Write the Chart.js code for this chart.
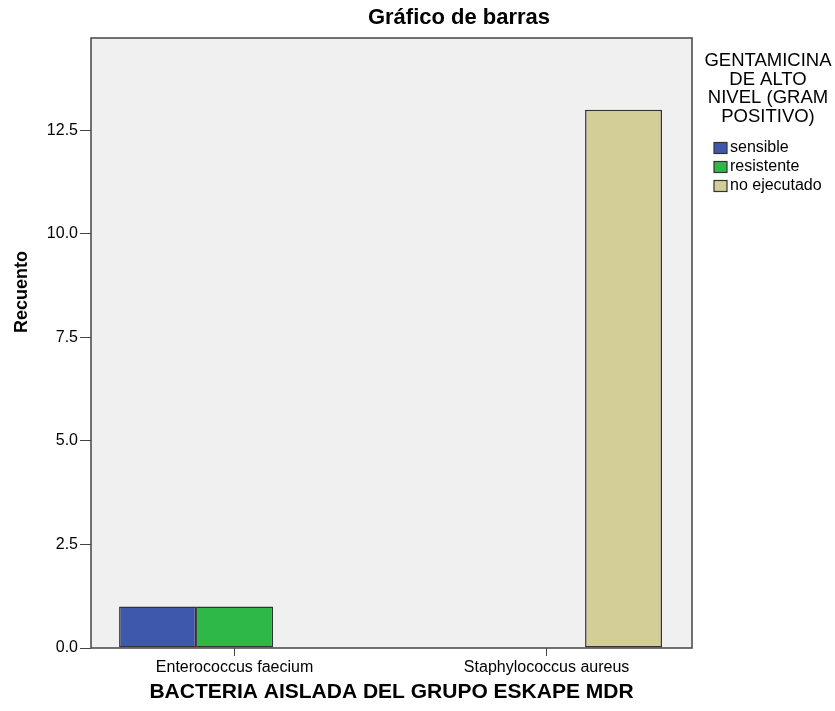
<!DOCTYPE html>
<html>
<head>
<meta charset="utf-8">
<script src="https://cdn.jsdelivr.net/npm/chart.js@4"></script>
<style>
  html, body { margin: 0; padding: 0; background: #fff; }
  #wrap { width: 835px; height: 711px; position: relative; }
</style>
</head>
<body>
<div id="wrap"><canvas id="myChart"></canvas></div>
<script>
// Bacterias del grupo ESKAPE y resultado de gentamicina de alto nivel
var categories = ["Enterococcus faecium", "Staphylococcus aureus"];
var sensible = [1, 0];
var resistente = [1, 0];
var noEjecutado = [0, 13];
var seriesNames = ["sensible", "resistente", "no ejecutado"];
var seriesColors = ["#3E58AC", "#2EB848", "#D3CE97"];
var yTicks = [0, 2.5, 5, 7.5, 10, 12.5];

var FONT = "'Liberation Sans', Arial, sans-serif";

// fondo gris, marco, titulos y leyenda al estilo SPSS
var spssFrame = {
  id: "spssFrame",
  beforeDraw: function (chart) {
    var a = chart.chartArea, c = chart.ctx;
    c.save();
    c.fillStyle = "#F0F0F0";
    c.fillRect(a.left, a.top, a.right - a.left, a.bottom - a.top);
    c.restore();
  },
  afterDraw: function (chart) {
    var a = chart.chartArea, c = chart.ctx;
    c.save();
    c.strokeStyle = "#444";
    c.lineWidth = 1.5;
    c.strokeRect(a.left, a.top, a.right - a.left, a.bottom - a.top);

    c.fillStyle = "#000";
    c.textAlign = "center";
    c.textBaseline = "middle";
    c.font = "bold 22px " + FONT;
    c.fillText("Gráfico de barras", 459, 18);

    c.font = "bold 21px " + FONT;
    c.fillText("BACTERIA AISLADA DEL GRUPO ESKAPE MDR", (a.left + a.right) / 2, 692);

    c.save();
    c.translate(22, 292);
    c.rotate(-Math.PI / 2);
    c.font = "bold 18px " + FONT;
    c.fillText("Recuento", 0, 0);
    c.restore();

    // leyenda
    var titleLines = ["GENTAMICINA", "DE ALTO", "NIVEL (GRAM", "POSITIVO)"];
    c.font = "18.5px " + FONT;
    titleLines.forEach(function (t, i) {
      c.fillText(t, 768, 61 + i * 18.5);
    });
    c.textAlign = "left";
    c.font = "16px " + FONT;
    chart.data.datasets.forEach(function (ds, i) {
      var y = 148 + i * 19;
      c.fillStyle = ds.backgroundColor;
      c.fillRect(714, y - 5.5, 13, 11);
      c.strokeStyle = "#333";
      c.lineWidth = 1.2;
      c.strokeRect(714, y - 5.5, 13, 11);
      c.fillStyle = "#000";
      c.fillText(ds.label, 730, y);
    });
    c.restore();
  }
};

var datasetsValues = [sensible, resistente, noEjecutado];

new Chart(document.getElementById("myChart"), {
  type: "bar",
  data: {
    datasets: datasetsValues.map(function (vals, i) {
      return {
        label: seriesNames[i],
        data: vals.map(function (v, j) { return { x: j + 1, y: v }; }),
        backgroundColor: seriesColors[i],
        borderColor: "#333",
        borderWidth: 1.5,
        borderSkipped: false,
        categoryPercentage: 0.74,
        barPercentage: 1
      };
    })
  },
  options: {
    responsive: true,
    maintainAspectRatio: false,
    animation: false,
    layout: { padding: { top: 38, right: 143, left: 0, bottom: 0 } },
    plugins: {
      legend: { display: false },
      title: { display: false },
      tooltip: { enabled: false }
    },
    scales: {
      x: {
        type: "linear",
        position: "bottom",
        offset: false,
        min: 0.54,
        max: 2.466,
        afterBuildTicks: function (scale) {
          scale.ticks = categories.map(function (c, i) { return { value: i + 1 }; });
        },
        afterFit: function (scale) { scale.height = 63; },
        grid: {
          offset: false,
          drawOnChartArea: false,
          drawTicks: true,
          tickLength: 8,
          color: "#444"
        },
        border: { display: false },
        ticks: {
          color: "#000",
          font: { family: FONT, size: 16 },
          padding: 2,
          maxRotation: 0,
          autoSkip: false,
          callback: function (v) { return categories[v - 1]; }
        }
      },
      y: {
        type: "linear",
        min: 0,
        max: 14.73,
        afterBuildTicks: function (scale) {
          scale.ticks = yTicks.map(function (v) { return { value: v }; });
        },
        afterFit: function (scale) { scale.width = 91; },
        grid: {
          drawOnChartArea: false,
          drawTicks: true,
          tickLength: 11,
          color: "#444"
        },
        border: { display: false },
        ticks: {
          color: "#000",
          font: { family: FONT, size: 16 },
          padding: 2,
          callback: function (v) { return v.toFixed(1); }
        }
      }
    }
  },
  plugins: [spssFrame]
});
</script>
</body>
</html>
